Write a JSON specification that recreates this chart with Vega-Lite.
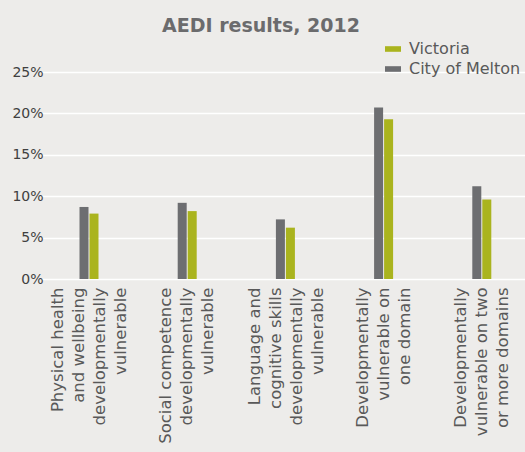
{
  "$schema": "https://vega.github.io/schema/vega-lite/v6.json",
  "width": 458,
  "height": 207,
  "autosize": "none",
  "padding": {"left": 52, "top": 72, "right": 15, "bottom": 173},
  "background": "#edecea",
  "title": {
    "text": "AEDI results, 2012",
    "font": "DejaVu Sans",
    "fontSize": 19,
    "fontWeight": "bold",
    "color": "#6b6b6d",
    "baseline": "alphabetic",
    "offset": 4,
    "dx": -20,
    "dy": 14
  },
  "data": {
    "values": [
      {"measure": "Physical health|and wellbeing|developmentally|vulnerable", "area": "City of Melton", "value": 0.087},
      {"measure": "Physical health|and wellbeing|developmentally|vulnerable", "area": "Victoria", "value": 0.079},
      {"measure": "Social competence|developmentally|vulnerable", "area": "City of Melton", "value": 0.092},
      {"measure": "Social competence|developmentally|vulnerable", "area": "Victoria", "value": 0.082},
      {"measure": "Language and|cognitive skills|developmentally|vulnerable", "area": "City of Melton", "value": 0.072},
      {"measure": "Language and|cognitive skills|developmentally|vulnerable", "area": "Victoria", "value": 0.062},
      {"measure": "Developmentally|vulnerable on|one domain", "area": "City of Melton", "value": 0.207},
      {"measure": "Developmentally|vulnerable on|one domain", "area": "Victoria", "value": 0.193},
      {"measure": "Developmentally|vulnerable on two|or more domains", "area": "City of Melton", "value": 0.112},
      {"measure": "Developmentally|vulnerable on two|or more domains", "area": "Victoria", "value": 0.096}
    ]
  },
  "mark": {"type": "bar"},
  "encoding": {
    "x": {
      "field": "measure",
      "type": "nominal",
      "sort": null,
      "title": null,
      "scale": {"range": [-12, 479], "paddingInner": 0, "paddingOuter": 0},
      "axis": {
        "labelExpr": "split(datum.label, '|')",
        "labelAngle": -90,
        "labelAlign": "right",
        "labelBaseline": "middle",
        "labelFont": "DejaVu Sans",
        "labelFontSize": 16.5,
        "labelLineHeight": 21,
        "labelColor": "#595959",
        "labelPadding": 8,
        "labelLimit": 400,
        "labelOffset": {"condition": {"test": "indexof(datum.value, 'Physical') >= 0 || indexof(datum.value, 'Language') >= 0", "value": -31}, "value": -21},
        "ticks": false,
        "domain": false,
        "grid": false
      }
    },
    "xOffset": {
      "field": "area",
      "type": "nominal",
      "sort": ["City of Melton", "Victoria"],
      "scale": {"range": [39.5, 58.5], "paddingInner": 0.1, "paddingOuter": 0}
    },
    "y": {
      "field": "value",
      "type": "quantitative",
      "title": null,
      "scale": {"domain": [0, 0.25]},
      "axis": {
        "values": [0, 0.05, 0.1, 0.15, 0.2, 0.25],
        "format": ".0%",
        "labelFont": "DejaVu Sans",
        "labelFontSize": 14,
        "labelColor": "#404040",
        "labelPadding": 9,
        "ticks": false,
        "domain": false,
        "gridColor": "#ffffff",
        "gridWidth": 1.3
      }
    },
    "color": {
      "field": "area",
      "type": "nominal",
      "scale": {"domain": ["Victoria", "City of Melton"], "range": ["#aab41e", "#6d6e71"]},
      "legend": {
        "title": null,
        "orient": "none",
        "legendX": 333,
        "legendY": -31,
        "symbolType": "M-1,-0.35H1V0.35H-1Z",
        "symbolSize": 256,
        "symbolStrokeWidth": 0,
        "labelFont": "DejaVu Sans",
        "labelFontSize": 16,
        "labelColor": "#595959",
        "labelOffset": 8,
        "rowPadding": 4,
        "padding": 0
      }
    }
  },
  "config": {"view": {"stroke": null}}
}
